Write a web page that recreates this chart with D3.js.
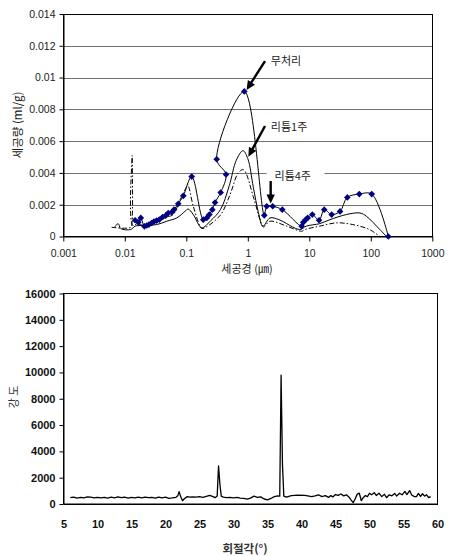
<!DOCTYPE html>
<html><head><meta charset="utf-8">
<script src="https://cdn.jsdelivr.net/npm/d3@7"></script>
<style>body{margin:0;background:#fff}svg{display:block}</style>
</head><body>
<script>
// ---------- Top chart data: pore size distribution ----------
const poreSizeUntreated = [0.0147,0.0166,0.0182,0.0208,0.0227,0.0247,0.0273,0.0298,0.033,0.0364,0.0413,0.0462,0.0509,0.058,0.063,0.074,0.0894,0.1225,0.189,0.215,0.237,0.265,0.293,0.362,0.443,0.312,0.877,1.855,2.03,2.54,3.64,7.52,7.98,8.74,9.42,11.2,14.4,17.5,23.1,31.6,41.5,65,103.5,192.6];
const poreVolUntreated = [0.00102,0.00089,0.00117,0.00064,0.00069,0.00075,0.00085,0.00094,0.00100,0.00106,0.00123,0.00131,0.00148,0.00152,0.00169,0.00206,0.00256,0.00377,0.00106,0.00117,0.00138,0.00169,0.00214,0.00277,0.00390,0.00486,0.00913,0.00133,0.00190,0.00190,0.00169,0.00065,0.00089,0.00106,0.00117,0.00138,0.00102,0.00169,0.00138,0.00158,0.00246,0.00267,0.00267,0.0];

const poreSizeLi1 = [0.0068,0.0078,0.0086,0.0125,0.0147,0.02,0.033,0.048,0.07,0.095,0.107,0.13,0.178,0.25,0.36,0.5,0.65,0.835,1.0,1.23,1.49,1.76,2.3,3.2,7.0,8.9,14.8,21.7,40,66.7,85,140,180];
const poreVolLi1 = [0.00058,0.00081,0.0005,0.00044,0.00065,0.0007,0.00075,0.00096,0.00117,0.00158,0.00173,0.00138,0.00055,0.001,0.0017,0.0032,0.0048,0.0054,0.0049,0.0031,0.0015,0.00065,0.00117,0.00106,0.00044,0.00065,0.00081,0.00106,0.00138,0.00148,0.00127,0.00044,0.0];

const poreSizeLi4 = [0.0061,0.0125,0.0131,0.0132,0.0134,0.016,0.02,0.03,0.045,0.061,0.079,0.1,0.105,0.13,0.167,0.18,0.35,0.51,0.7,0.85,1.23,1.58,1.79,2.3,4.3,7.5,8.5,14.8,28,51,95,140];
const poreVolLi4 = [0.00058,0.00058,0.0009,0.0051,0.0007,0.0008,0.0007,0.0009,0.0012,0.00138,0.0023,0.0031,0.0033,0.0019,0.00065,0.0005,0.0013,0.0026,0.004,0.0042,0.0025,0.00106,0.0006,0.00096,0.00065,0.00033,0.00044,0.00065,0.00086,0.00075,0.00044,0.0];

const poreXTicks = [0.001,0.01,0.1,1,10,100,1000];
const poreXTickLabels = ["0.001","0.01","0.1","1","10","100","1000"];
const poreYTicks = [0,0.002,0.004,0.006,0.008,0.01,0.012,0.014];
const poreYTickLabels = ["0","0.002","0.004","0.006","0.008","0.01","0.012","0.014"];

// annotations (data coordinates): label, text anchor, arrow tail, arrow tip
const annLabels = ["무처리","리튬1주","리튬4주"];
const annText = [[2.37,0.01079],[2.37,0.00664],[2.72,0.00356]];
const annTail = [[1.905,0.01104],[1.905,0.00695],[2.355,0.00349]];
const annTip  = [[0.955,0.00922],[1.02,0.00502],[2.355,0.00208]];

// ---------- Bottom chart data: XRD ----------
const xrdAngle = [6.0,6.5,7.0,7.5,8.0,8.5,9.0,9.5,10.0,10.5,11.0,11.5,12.0,12.5,13.0,13.5,14.0,14.5,15.0,15.5,16.0,16.5,17.0,17.5,18.0,18.5,19.0,19.5,20.0,20.5,21.0,21.5,21.8,22.0,22.2,22.5,22.8,23.2,23.6,24.0,24.5,25.0,25.5,26.0,26.5,27.0,27.3,27.6,27.8,28.0,28.2,28.5,29.0,29.5,30.0,30.5,31.0,31.5,32.0,32.5,33.0,33.5,34.0,34.5,35.0,35.5,36.0,36.5,36.8,37.0,37.2,37.4,37.8,38.5,39.5,40.5,41.5,42.0,42.5,43.0,43.5,44.0,44.3,44.6,45.0,45.4,45.8,46.2,46.6,47.0,47.3,47.6,47.9,48.2,48.5,48.8,49.1,49.4,49.7,50.0,50.3,50.7,51.0,51.4,51.8,52.2,52.5,52.9,53.3,53.7,54.0,54.4,54.8,55.2,55.5,55.9,56.2,56.6,56.9,57.2,57.5,57.8,58.1,58.4,58.7,59.0];
const xrdIntensity = [480,520,450,500,470,540,520,470,510,460,500,440,520,470,550,490,520,450,510,470,530,460,520,480,500,440,530,470,520,430,460,500,620,940,600,250,420,560,520,540,530,560,500,580,650,560,480,600,2900,1500,600,520,480,500,470,500,440,420,370,450,600,500,540,380,320,420,560,620,600,9800,3000,600,520,640,680,660,560,620,700,560,640,500,640,540,720,650,760,620,700,520,300,100,400,750,820,250,500,640,560,820,700,860,650,820,560,740,480,700,620,800,600,820,700,960,720,1020,680,560,560,800,580,780,600,700,480,560];
const xrdXTicks = [5,10,15,20,25,30,35,40,45,50,55,60];
const xrdYTicks = [0,2000,4000,6000,8000,10000,12000,14000,16000];

// ---------- Drawing ----------
const numFont = "'Liberation Sans', Arial, sans-serif";
const krFont = "'Noto Sans CJK KR', 'Liberation Sans', sans-serif";
const svg = d3.select("body").append("svg").attr("width",454).attr("height",556);

// ===== Top chart =====
const x1 = d3.scaleLog().domain([0.001,1000]).range([63.3,432.3]);
const y1 = d3.scaleLinear().domain([0,0.014]).range([236.5,14]);
const gTop = svg.append("g");

gTop.append("g").selectAll("line").data(poreYTicks.slice(1,-1)).join("line")
  .attr("x1",x1.range()[0]).attr("x2",x1.range()[1])
  .attr("y1",d=>Math.round(y1(d))+0.5).attr("y2",d=>Math.round(y1(d))+0.5)
  .attr("stroke","#707070").attr("stroke-width",1);

gTop.append("rect").attr("x",63.5).attr("y",14.5).attr("width",369).attr("height",222)
  .attr("fill","none").attr("stroke","#000").attr("stroke-width",1);

const ax1 = gTop.append("g").attr("transform","translate(0,236.5)")
  .call(d3.axisBottom(x1).tickValues(poreXTicks).tickFormat((d,i)=>poreXTickLabels[i]).tickSize(5).tickSizeOuter(0).tickPadding(8));
const ay1 = gTop.append("g").attr("transform","translate(63.5,0)")
  .call(d3.axisLeft(y1).tickValues(poreYTicks).tickFormat((d,i)=>poreYTickLabels[i]).tickSize(4).tickSizeOuter(0).tickPadding(4));
[ax1,ay1].forEach(a=>{
  a.select(".domain").attr("stroke","#000");
  a.selectAll("line").attr("stroke","#000");
  a.selectAll("text").attr("font-family",numFont).attr("font-size","10.5px").attr("fill","#222");
});

const lineGen = d3.line().x(d=>x1(d[0])).y(d=>y1(d[1])).curve(d3.curveCatmullRom.alpha(0.5));
const li4 = poreSizeLi4.map((v,i)=>[v,poreVolLi4[i]]);
const li1 = poreSizeLi1.map((v,i)=>[v,poreVolLi1[i]]);
const unt = poreSizeUntreated.map((v,i)=>[v,poreVolUntreated[i]]);

gTop.append("path").attr("d",lineGen(li4)).attr("fill","none").attr("stroke","#000")
  .attr("stroke-width",1).attr("stroke-dasharray","5,2,1.5,2");
gTop.append("path").attr("d",lineGen(li1)).attr("fill","none").attr("stroke","#000").attr("stroke-width",1);
gTop.append("path").attr("d",lineGen(unt)).attr("fill","none").attr("stroke","#000").attr("stroke-width",1);

const diamond = d3.symbol(d3.symbolSquare, 22);
gTop.append("g").selectAll("path").data(unt).join("path")
  .attr("d",diamond).attr("fill","#000080")
  .attr("transform",d=>`translate(${x1(d[0])},${y1(d[1])}) rotate(45)`);

{
  const tx = x1(annText[2][0]), ty = y1(annText[2][1]);
  gTop.append("rect").attr("x",tx-8).attr("y",ty-12).attr("width",58).attr("height",15).attr("fill","#fff");
}
function arrow(g,p1,p2){
  const dx=p2[0]-p1[0], dy=p2[1]-p1[1], L=Math.hypot(dx,dy), ux=dx/L, uy=dy/L;
  const hl=9, hw=4.2;
  const bx=p2[0]-ux*hl, by=p2[1]-uy*hl;
  g.append("line").attr("x1",p1[0]).attr("y1",p1[1]).attr("x2",bx+ux*1).attr("y2",by+uy*1)
    .attr("stroke","#000").attr("stroke-width",2.4);
  g.append("path").attr("d",`M${p2[0]},${p2[1]}L${bx-uy*hw},${by+ux*hw}L${bx+uy*hw},${by-ux*hw}Z`).attr("fill","#000");
}
annLabels.forEach((lab,i)=>{
  gTop.append("text").attr("x",x1(annText[i][0])).attr("y",y1(annText[i][1]))
    .attr("font-family",krFont).attr("font-size","11px").attr("fill","#222").text(lab);
  arrow(gTop,[x1(annTail[i][0]),y1(annTail[i][1])],[x1(annTip[i][0]),y1(annTip[i][1])]);
});

gTop.append("text").attr("x",247).attr("y",273).attr("text-anchor","middle")
  .attr("font-family",krFont).attr("font-size","11px").attr("fill","#222").text("세공경 (㎛)");
gTop.append("text").attr("transform","translate(22,125) rotate(-90)").attr("text-anchor","middle")
  .attr("font-family",krFont).attr("font-size","11.5px").attr("fill","#222").text("세공량 (ml/g)");

// ===== Bottom chart =====
const x2 = d3.scaleLinear().domain([5,60]).range([63.5,437.5]);
const y2 = d3.scaleLinear().domain([0,16000]).range([504,293.5]);
const gBot = svg.append("g");
gBot.append("rect").attr("x",63.5).attr("y",293.5).attr("width",374).attr("height",210.5)
  .attr("fill","none").attr("stroke","#000").attr("stroke-width",1);
const ax2 = gBot.append("g").attr("transform","translate(0,504)")
  .call(d3.axisBottom(x2).tickValues(xrdXTicks).tickFormat(d3.format("d")).tickSize(0).tickPadding(16));
const ay2 = gBot.append("g").attr("transform","translate(63.5,0)")
  .call(d3.axisLeft(y2).tickValues(xrdYTicks).tickFormat(d3.format("d")).tickSize(4).tickSizeOuter(0).tickPadding(4));
[ax2,ay2].forEach(a=>{
  a.select(".domain").attr("stroke","#000");
  a.selectAll("line").attr("stroke","#000");
  a.selectAll("text").attr("font-family",numFont).attr("font-size","11px").attr("font-weight","bold").attr("fill","#111");
});
const xrdLine = d3.line().x((d,i)=>x2(xrdAngle[i])).y((d,i)=>y2(xrdIntensity[i]));
gBot.append("path").attr("d",xrdLine(xrdAngle)).attr("fill","none").attr("stroke","#000")
  .attr("stroke-width",1.3).attr("stroke-linejoin","round");

gBot.append("text").attr("x",245).attr("y",553).attr("text-anchor","middle")
  .attr("font-family",krFont).attr("font-size","11.5px").attr("font-weight","bold").attr("fill","#333").text("회절각(°)");
gBot.append("text").attr("transform","translate(18,397) rotate(-90)").attr("text-anchor","middle")
  .attr("font-family",krFont).attr("font-size","11px").attr("fill","#333").text("강 도");
</script>
</body></html>
